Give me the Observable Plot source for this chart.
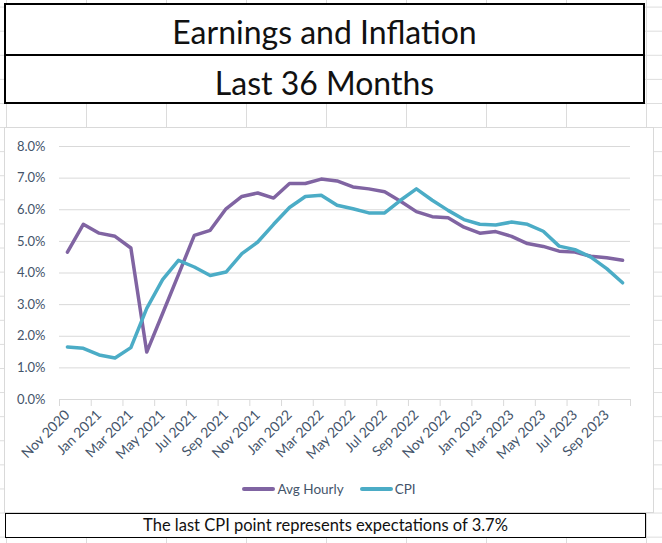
<!DOCTYPE html>
<html>
<head>
<meta charset="utf-8">
<script src="https://cdn.jsdelivr.net/npm/d3@7"></script>
<script src="https://cdn.jsdelivr.net/npm/@observablehq/plot@0.6"></script>
<style>
  html, body { margin: 0; padding: 0; }
  body {
    width: 662px; height: 543px; overflow: hidden; position: relative;
    font-family: Lato, "Open Sans", sans-serif;
    background-color: #fff;
    background-image:
      linear-gradient(to right, #dcdcdc 1px, transparent 1px),
      linear-gradient(to bottom, #dcdcdc 1px, transparent 1px);
    background-size: 80px 24.1px;
    background-position: 6px 6.6px;
  }
  #titles {
    position: absolute; left: 4px; top: 3px; width: 641px; height: 101px;
    box-sizing: border-box; border: 2px solid #000; background: #fff;
  }
  #titles div {
    height: 48.5px; line-height: 54px; text-align: center; font-size: 32px; color: #111;
  }
  #titles div + div { border-top: 2px solid #000; }
  #chartArea {
    position: absolute; left: 4px; top: 127px; width: 650px; height: 386px;
    box-sizing: border-box; border: 1px solid #d9d9d9; background: #fff;
  }
  #chartArea svg { position: absolute; left: 0; top: 0; }
  #legend {
    position: absolute; left: 0; top: 350px; width: 648px; text-align: center;
    font-size: 13.5px; color: #44546a; line-height: 16px;
  }
  #legend .item { display: inline-flex; align-items: center; margin: 0 8px; }
  #legend .sw { display: inline-block; width: 33px; height: 4px; margin-right: 2px; border-radius: 2px; }
  #caption {
    position: absolute; left: 5px; top: 513px; width: 641px; height: 25px;
    box-sizing: border-box; border: 1.5px solid #000; background: #fff;
    text-align: center; font-size: 16.5px; line-height: 22px; color: #111;
  }
</style>
</head>
<body>
<div id="titles"><div>Earnings and Inflation</div><div>Last 36 Months</div></div>
<div id="chartArea"><div id="legend"></div></div>
<div id="caption">The last CPI point represents expectations of 3.7%</div>
<script>
const months = [
  "Nov 2020","Dec 2020","Jan 2021","Feb 2021","Mar 2021","Apr 2021","May 2021","Jun 2021",
  "Jul 2021","Aug 2021","Sep 2021","Oct 2021","Nov 2021","Dec 2021","Jan 2022","Feb 2022",
  "Mar 2022","Apr 2022","May 2022","Jun 2022","Jul 2022","Aug 2022","Sep 2022","Oct 2022",
  "Nov 2022","Dec 2022","Jan 2023","Feb 2023","Mar 2023","Apr 2023","May 2023","Jun 2023",
  "Jul 2023","Aug 2023","Sep 2023","Oct 2023"
];
const avgHourly = [
  4.66, 5.54, 5.26, 5.16, 4.79, 1.50, 2.72, 3.95,
  5.19, 5.35, 6.03, 6.42, 6.53, 6.37, 6.83, 6.83,
  6.97, 6.91, 6.72, 6.66, 6.57, 6.27, 5.94, 5.78,
  5.75, 5.45, 5.26, 5.31, 5.16, 4.93, 4.84, 4.69,
  4.66, 4.53, 4.48, 4.40
];
const cpi = [
  1.66, 1.62, 1.41, 1.31, 1.64, 2.88, 3.79, 4.40,
  4.19, 3.92, 4.03, 4.61, 4.98, 5.54, 6.07, 6.42,
  6.46, 6.14, 6.03, 5.90, 5.90, 6.30, 6.66, 6.30,
  5.98, 5.69, 5.54, 5.52, 5.61, 5.54, 5.32, 4.85,
  4.74, 4.50, 4.14, 3.69
];
const seriesNames = ["Avg Hourly", "CPI"];
const seriesColors = ["#8064a2", "#4bacc6"];
const yTicks = [0, 1, 2, 3, 4, 5, 6, 7, 8];
const tickLabels = ["Nov 2020","Jan 2021","Mar 2021","May 2021","Jul 2021","Sep 2021","Nov 2021",
  "Jan 2022","Mar 2022","May 2022","Jul 2022","Sep 2022","Nov 2022","Jan 2023","Mar 2023",
  "May 2023","Jul 2023","Sep 2023"];

const rows = [
  ...months.map((m, i) => ({i, month: m, value: avgHourly[i], series: seriesNames[0]})),
  ...months.map((m, i) => ({i, month: m, value: cpi[i], series: seriesNames[1]}))
];
const labelIdx = tickLabels.map(l => months.indexOf(l));
const boundaries = d3.range(0, months.length + 1, 2).map(k => k - 0.5);

const textColor = "#44546a";
const gridColor = "#d9d9d9";

const chart = Plot.plot({
  width: 648, height: 384,
  marginLeft: 54, marginRight: 23, marginTop: 18, marginBottom: 113,
  style: {fontFamily: "Lato, 'Open Sans', sans-serif", background: "transparent"},
  x: {type: "linear", domain: [-0.5, months.length - 0.5], axis: null},
  y: {domain: [0, 8], axis: null},
  color: {domain: seriesNames, range: seriesColors},
  marks: [
    Plot.gridY(yTicks, {stroke: gridColor, strokeOpacity: 1, strokeWidth: 1}),
    Plot.axisY(yTicks, {label: null, tickSize: 0, tickPadding: 14, fontSize: 13, fill: textColor,
      tickFormat: d => d.toFixed(1) + "%"}),
    Plot.axisX(boundaries, {label: null, tickSize: 7, stroke: gridColor, strokeOpacity: 1, tickFormat: () => ""}),
    Plot.axisX(labelIdx, {label: null, tickSize: 0, tickPadding: 13, tickRotate: -45, fontSize: 14, fill: textColor,
      tickFormat: i => months[i]}),
    Plot.line(rows, {x: "i", y: "value", z: "series", stroke: "series",
      strokeWidth: 3.5, strokeLinejoin: "round", strokeLinecap: "round"})
  ]
});
document.getElementById("chartArea").prepend(chart);

const legend = document.getElementById("legend");
seriesNames.forEach((name, k) => {
  const item = document.createElement("span");
  item.className = "item";
  const sw = document.createElement("span");
  sw.className = "sw";
  sw.style.background = seriesColors[k];
  item.appendChild(sw);
  item.appendChild(document.createTextNode(name));
  legend.appendChild(item);
});
</script>
</body>
</html>
